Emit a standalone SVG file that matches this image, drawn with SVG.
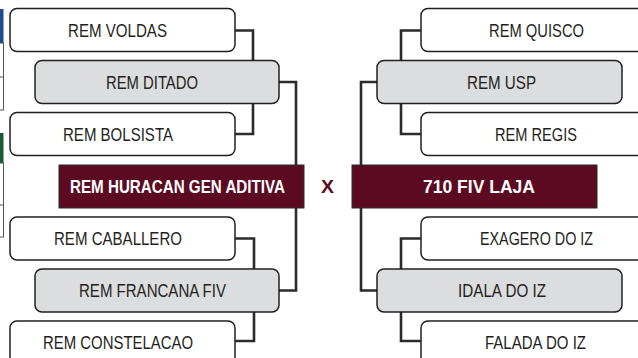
<svg xmlns="http://www.w3.org/2000/svg" width="638" height="358" viewBox="0 0 638 358">
<style>
.box{fill:#ffffff;stroke:#231f20;stroke-width:1.5}
.mid{fill:#dcdddf;stroke:#231f20;stroke-width:1.5}
.fin{fill:#5c0a22;stroke:#2a2a2a;stroke-width:1}
.lbl{font-family:"Liberation Sans",Arial,sans-serif;font-size:17.5px;fill:#231f20;text-anchor:middle}
.flbl{font-family:"Liberation Sans",Arial,sans-serif;font-size:17.5px;font-weight:bold;fill:#ffffff;text-anchor:middle}
.conn{fill:none;stroke:#2b2b2b;stroke-width:2.6}
.edge{fill:#ffffff;stroke:#555;stroke-width:1}
</style>
<rect width="638" height="358" fill="#ffffff"/>
<g id="left-edge">
<rect x="-10" y="43" width="13.5" height="67" class="edge"/>
<line x1="-10" y1="77" x2="3.5" y2="77" stroke="#555" stroke-width="1"/>
<rect x="-10" y="9" width="13.5" height="34" fill="#1f4a8f"/>
<rect x="-10" y="163" width="13.5" height="74" class="edge"/>
<line x1="-10" y1="205" x2="3.5" y2="205" stroke="#555" stroke-width="1"/>
<rect x="-10" y="133" width="13.5" height="30" fill="#1d5a34"/>
</g>
<g id="connectors">
<path class="conn" d="M235,30.5 H253 V134 H235"/>
<path class="conn" d="M279,82 H296 V165"/>
<path class="conn" d="M235,238.5 H254 V341 H235"/>
<path class="conn" d="M279,290.5 H296 V208"/>
<path class="conn" d="M421,30.5 H401 V134 H421"/>
<path class="conn" d="M377,82 H361 V165"/>
<path class="conn" d="M421,238.5 H401 V341 H421"/>
<path class="conn" d="M377,290.5 H361 V208"/>
</g>
<g id="n-voldas"><rect class="box" x="10" y="8.5" width="225" height="43" rx="7"/><text class="lbl" x="117.5" y="36.5" textLength="99" lengthAdjust="spacingAndGlyphs">REM VOLDAS</text></g>
<g id="n-ditado"><rect class="mid" x="35" y="60.5" width="244" height="43" rx="7"/><text class="lbl" x="152" y="88.5" textLength="92" lengthAdjust="spacingAndGlyphs">REM DITADO</text></g>
<g id="n-bolsista"><rect class="box" x="10" y="112.5" width="225" height="43" rx="7"/><text class="lbl" x="118" y="140.5" textLength="110" lengthAdjust="spacingAndGlyphs">REM BOLSISTA</text></g>
<g id="n-huracan"><rect class="fin" x="59" y="165" width="245" height="43"/><text class="flbl" x="177.5" y="193" textLength="215" lengthAdjust="spacingAndGlyphs">REM HURACAN GEN ADITIVA</text></g>
<g id="n-caballero"><rect class="box" x="10" y="217" width="225" height="43" rx="7"/><text class="lbl" x="118" y="245" textLength="128" lengthAdjust="spacingAndGlyphs">REM CABALLERO</text></g>
<g id="n-francana"><rect class="mid" x="35" y="269" width="244" height="43" rx="7"/><text class="lbl" x="152.5" y="297" textLength="147" lengthAdjust="spacingAndGlyphs">REM FRANCANA FIV</text></g>
<g id="n-constelacao"><rect class="box" x="10" y="321" width="225" height="43" rx="7"/><text class="lbl" x="118" y="349" textLength="150" lengthAdjust="spacingAndGlyphs">REM CONSTELACAO</text></g>
<g id="x-label"><text x="327.5" y="193" font-family="Liberation Sans, Arial, sans-serif" font-size="17.5" font-weight="bold" fill="#5c0a22" text-anchor="middle" textLength="13" lengthAdjust="spacingAndGlyphs">X</text></g>
<g id="n-quisco"><rect class="box" x="421" y="8.5" width="225" height="43" rx="7"/><text class="lbl" x="536.5" y="36.5" textLength="95" lengthAdjust="spacingAndGlyphs">REM QUISCO</text></g>
<g id="n-usp"><rect class="mid" x="377" y="60.5" width="245" height="43" rx="7"/><text class="lbl" x="501.5" y="88.5" textLength="69" lengthAdjust="spacingAndGlyphs">REM USP</text></g>
<g id="n-regis"><rect class="box" x="421" y="112.5" width="225" height="43" rx="7"/><text class="lbl" x="536" y="140.5" textLength="82" lengthAdjust="spacingAndGlyphs">REM REGIS</text></g>
<g id="n-laja"><rect class="fin" x="352" y="165" width="245" height="43"/><text class="flbl" x="479" y="193" textLength="112" lengthAdjust="spacingAndGlyphs">710 FIV LAJA</text></g>
<g id="n-exagero"><rect class="box" x="421" y="217" width="225" height="43" rx="7"/><text class="lbl" x="536.5" y="245" textLength="113" lengthAdjust="spacingAndGlyphs">EXAGERO DO IZ</text></g>
<g id="n-idala"><rect class="mid" x="377" y="269" width="245" height="43" rx="7"/><text class="lbl" x="502" y="297" textLength="88" lengthAdjust="spacingAndGlyphs">IDALA DO IZ</text></g>
<g id="n-falada"><rect class="box" x="421" y="321" width="225" height="43" rx="7"/><text class="lbl" x="535.5" y="349" textLength="101" lengthAdjust="spacingAndGlyphs">FALADA DO IZ</text></g>
</svg>
